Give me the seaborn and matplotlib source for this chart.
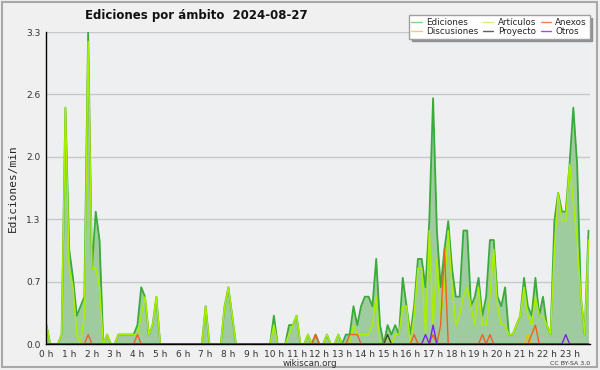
import numpy as np
import pandas as pd
import seaborn as sns
import matplotlib
matplotlib.use('Agg')
import matplotlib.pyplot as plt
from matplotlib.lines import Line2D
from matplotlib.patches import Rectangle

# ediciones por minuto, un valor cada 10 minutos (2 horas por fila)
ediciones = [
    0.2, 0, 0, 0, 0.1, 2.5,   1.0, 0.7, 0.3, 0.4, 0.5, 3.3,
    0.8, 1.4, 1.1, 0, 0.1, 0,   0, 0.1, 0.1, 0.1, 0.1, 0.1,
    0.2, 0.6, 0.5, 0.1, 0.2, 0.5,   0, 0, 0, 0, 0, 0,
    0, 0, 0, 0, 0, 0,   0.4, 0, 0, 0, 0, 0.4,
    0.6, 0.3, 0, 0, 0, 0,   0, 0, 0, 0, 0, 0,
    0.3, 0, 0, 0, 0.2, 0.2,   0.3, 0, 0, 0.1, 0, 0.1,
    0, 0, 0.1, 0, 0, 0.1,   0, 0.1, 0.1, 0.4, 0.2, 0.4,
    0.5, 0.5, 0.4, 0.9, 0.2, 0,   0.2, 0.1, 0.2, 0.1, 0.7, 0.4,
    0.1, 0.4, 0.9, 0.9, 0.6, 1.3,   2.6, 1.2, 0.6, 1.0, 1.3, 0.8,
    0.5, 0.5, 1.2, 1.2, 0.4, 0.5,   0.7, 0.3, 0.5, 1.1, 1.1, 0.5,
    0.4, 0.6, 0.1, 0.1, 0.2, 0.3,   0.7, 0.4, 0.3, 0.7, 0.3, 0.5,
    0.2, 0.1, 1.3, 1.6, 1.4, 1.4,   1.9, 2.5, 1.9, 0.5, 0.1, 1.2,
]
articulos = [
    0.2, 0, 0, 0, 0.1, 2.5,   0.8, 0.6, 0.1, 0, 0.3, 3.2,
    0.8, 0.8, 0.6, 0, 0.1, 0,   0, 0.1, 0.1, 0.1, 0.1, 0.1,
    0.1, 0.3, 0.5, 0.1, 0.2, 0.5,   0, 0, 0, 0, 0, 0,
    0, 0, 0, 0, 0, 0,   0.4, 0, 0, 0, 0, 0.4,
    0.6, 0.3, 0, 0, 0, 0,   0, 0, 0, 0, 0, 0,
    0.2, 0, 0, 0, 0.1, 0.2,   0.3, 0, 0, 0.1, 0, 0,
    0, 0, 0.1, 0, 0, 0.1,   0, 0, 0, 0.2, 0.1, 0.1,
    0.1, 0.1, 0.2, 0.5, 0, 0,   0.1, 0, 0.1, 0.1, 0.4, 0.4,
    0, 0.3, 0.8, 0.8, 0.1, 1.2,   0.2, 0.9, 0.3, 0.6, 1.2, 0.6,
    0.2, 0.3, 0.5, 0.6, 0.4, 0.2,   0.6, 0.2, 0.2, 0.5, 1.0, 0.4,
    0.2, 0.2, 0.1, 0.1, 0.2, 0.3,   0.6, 0.3, 0.2, 0.5, 0.3, 0.3,
    0.2, 0.1, 1.0, 1.6, 1.3, 1.3,   1.9, 1.5, 1.1, 0.5, 0.1, 1.1,
]
anexos = [
    0, 0, 0, 0, 0, 0,   0, 0, 0, 0, 0, 0.1,
    0, 0, 0, 0, 0, 0,   0, 0, 0, 0, 0, 0,
    0.1, 0, 0, 0, 0, 0,   0, 0, 0, 0, 0, 0,
    0, 0, 0, 0, 0, 0,   0, 0, 0, 0, 0, 0,
    0, 0, 0, 0, 0, 0,   0, 0, 0, 0, 0, 0,
    0, 0, 0, 0, 0, 0,   0, 0, 0, 0, 0, 0.1,
    0, 0, 0, 0, 0, 0,   0, 0, 0.1, 0.1, 0.1, 0,
    0, 0, 0, 0, 0, 0,   0, 0, 0, 0, 0, 0,
    0, 0.1, 0, 0, 0, 0,   0.1, 0, 0.2, 1.0, 0, 0,
    0, 0, 0, 0, 0, 0,   0, 0.1, 0, 0.1, 0, 0,
    0, 0, 0, 0, 0, 0,   0, 0, 0.1, 0.2, 0, 0,
    0, 0, 0, 0, 0, 0,   0, 0, 0, 0, 0, 0,
]
discusiones = [
    0, 0, 0, 0, 0, 0,   0, 0, 0, 0, 0, 0,
    0, 0, 0, 0, 0, 0,   0, 0, 0, 0, 0, 0,
    0, 0, 0, 0, 0, 0,   0, 0, 0, 0, 0, 0,
    0, 0, 0, 0, 0, 0,   0, 0, 0, 0, 0, 0,
    0, 0, 0, 0, 0, 0,   0, 0, 0, 0, 0, 0,
    0, 0, 0, 0, 0, 0,   0, 0, 0, 0, 0, 0,
    0, 0, 0, 0, 0, 0,   0, 0, 0, 0, 0, 0,
    0, 0, 0, 0, 0, 0,   0, 0, 0, 0, 0, 0,
    0, 0, 0, 0, 0, 0,   0, 0, 0, 0, 0, 0,
    0, 0, 0, 0, 0, 0,   0, 0, 0, 0, 0, 0,
    0, 0, 0, 0, 0, 0,   0, 0.1, 0, 0, 0, 0,
    0, 0, 0, 0, 0, 0,   0, 0, 0, 0, 0, 0,
]
proyecto = [
    0, 0, 0, 0, 0, 0,   0, 0, 0, 0, 0, 0,
    0, 0, 0, 0, 0, 0,   0, 0, 0, 0, 0, 0,
    0, 0, 0, 0, 0, 0,   0, 0, 0, 0, 0, 0,
    0, 0, 0, 0, 0, 0,   0, 0, 0, 0, 0, 0,
    0, 0, 0, 0, 0, 0,   0, 0, 0, 0, 0, 0,
    0, 0, 0, 0, 0, 0,   0, 0, 0, 0, 0, 0,
    0, 0, 0, 0, 0, 0,   0, 0, 0, 0, 0, 0,
    0, 0, 0, 0, 0, 0,   0.1, 0, 0, 0, 0, 0,
    0, 0, 0, 0, 0, 0,   0, 0, 0, 0, 0, 0,
    0, 0, 0, 0, 0, 0,   0, 0, 0, 0, 0, 0,
    0, 0, 0, 0, 0, 0,   0, 0, 0, 0, 0, 0,
    0, 0, 0, 0, 0, 0,   0, 0, 0, 0, 0, 0,
]
otros = [
    0, 0, 0, 0, 0, 0,   0, 0, 0, 0, 0, 0,
    0, 0, 0, 0, 0, 0,   0, 0, 0, 0, 0, 0,
    0, 0, 0, 0, 0, 0,   0, 0, 0, 0, 0, 0,
    0, 0, 0, 0, 0, 0,   0, 0, 0, 0, 0, 0,
    0, 0, 0, 0, 0, 0,   0, 0, 0, 0, 0, 0,
    0, 0, 0, 0, 0, 0,   0, 0, 0, 0, 0, 0,
    0, 0, 0, 0, 0, 0,   0, 0, 0, 0, 0, 0,
    0, 0, 0, 0, 0, 0,   0, 0, 0, 0, 0, 0,
    0, 0, 0, 0, 0.1, 0,   0.2, 0, 0, 0, 0, 0,
    0, 0, 0, 0, 0, 0,   0, 0, 0, 0, 0, 0,
    0, 0, 0, 0, 0, 0,   0, 0, 0, 0, 0, 0,
    0, 0, 0, 0, 0, 0.1,   0, 0, 0, 0, 0, 0,
]
hour_labels = ['%d h' % h for h in range(24)]
ytick_vals = [0.0, 0.66, 1.32, 1.98, 2.64, 3.3]

df = pd.DataFrame({'hora': np.arange(len(ediciones)) / 6.0,
                   'Ediciones': ediciones, 'Artículos': articulos,
                   'Anexos': anexos, 'Discusiones': discusiones,
                   'Proyecto': proyecto, 'Otros': otros})

sns.set_style('white')
plt.rcParams['font.family'] = ['DejaVu Sans']

fig = plt.figure(figsize=(6, 3.7), dpi=100, facecolor='#f0f0f0')
ax = fig.add_axes([46 / 600, 26 / 370, 544 / 600, 312 / 370])
ax.set_facecolor('#eeeff1')

ax.fill_between(df['hora'], df['Ediciones'], color='#9fcc9f', lw=0, zorder=1)
series = [('Ediciones', '#3aaa3a', 1.3), ('Artículos', '#aaee00', 1.1),
          ('Discusiones', '#f0c000', 1.0), ('Proyecto', '#404020', 1.0),
          ('Anexos', '#f06020', 1.0), ('Otros', '#7a22ee', 1.0)]
for name, col, lw in series:
    sns.lineplot(data=df, x='hora', y=name, color=col, lw=lw, ax=ax, zorder=3)

ax.set_xlim(-0.02, 23.9)
ax.set_ylim(0, 3.3)
ax.set_yticks(ytick_vals)
ax.set_yticklabels(['%.1f' % v for v in ytick_vals])
ax.set_yticks(np.arange(0, 3.31, 0.165), minor=True)
ax.set_xticks(range(24))
ax.set_xticklabels(hour_labels)
ax.set_xticks(np.arange(0, 23.9, 1 / 6.0), minor=True)
ax.tick_params(which='both', direction='out', length=3.5, width=1, color='black',
               labelsize=6.5, labelcolor='#333333', pad=0.5)
ax.grid(axis='y', which='major', color='#c8c8c8', lw=1)
ax.set_axisbelow(True)
for s in ['top', 'right']:
    ax.spines[s].set_visible(False)
for s in ['left', 'bottom']:
    ax.spines[s].set_color('black')
    ax.spines[s].set_linewidth(1)
    ax.spines[s].set_zorder(10)
ax.set_xlabel('')
ax.set_ylabel('Ediciones/min', family='DejaVu Sans Mono', fontsize=8, labelpad=6)

fig.text(85 / 600, 1 - 15 / 370, 'Ediciones por ámbito  2024-08-27',
         fontsize=8.5, weight='bold', va='center', ha='left', color='#111111')
fig.text(310 / 600, 1 - 363.5 / 370, 'wikiscan.org', fontsize=6.3,
         ha='center', va='center', color='#333333')
fig.text(590 / 600, 1 - 363.5 / 370, 'CC BY-SA 3.0', fontsize=4.5,
         ha='right', va='center', color='#333333')

handles = [Line2D([], [], color='#88d088', lw=1), Line2D([], [], color='#f0d060', lw=1),
           Line2D([], [], color='#d8f070', lw=1), Line2D([], [], color='#606060', lw=1),
           Line2D([], [], color='#f08050', lw=1), Line2D([], [], color='#9a50f0', lw=1)]
labels = ['Ediciones', 'Discusiones', 'Artículos', 'Proyecto', 'Anexos', 'Otros']
leg = fig.legend(handles, labels, ncol=3, loc='upper right',
                 bbox_to_anchor=(594 / 600, 1 - 11 / 370), fontsize=6.3,
                 handlelength=1.2, handletextpad=0.5, columnspacing=0.5,
                 labelspacing=0.0, borderpad=0.3, fancybox=False,
                 shadow={'color': '#909090', 'alpha': 1.0}, framealpha=1)
leg.get_frame().set_edgecolor('#a0a0a0')
leg.get_frame().set_facecolor('white')

fig.patches.append(Rectangle((2 / 600, 3 / 370), 595 / 600, 365 / 370,
                             transform=fig.transFigure, fill=False,
                             edgecolor='#a8a8a8', lw=1.5))

fig.savefig('out.png', dpi=100, facecolor=fig.get_facecolor())
